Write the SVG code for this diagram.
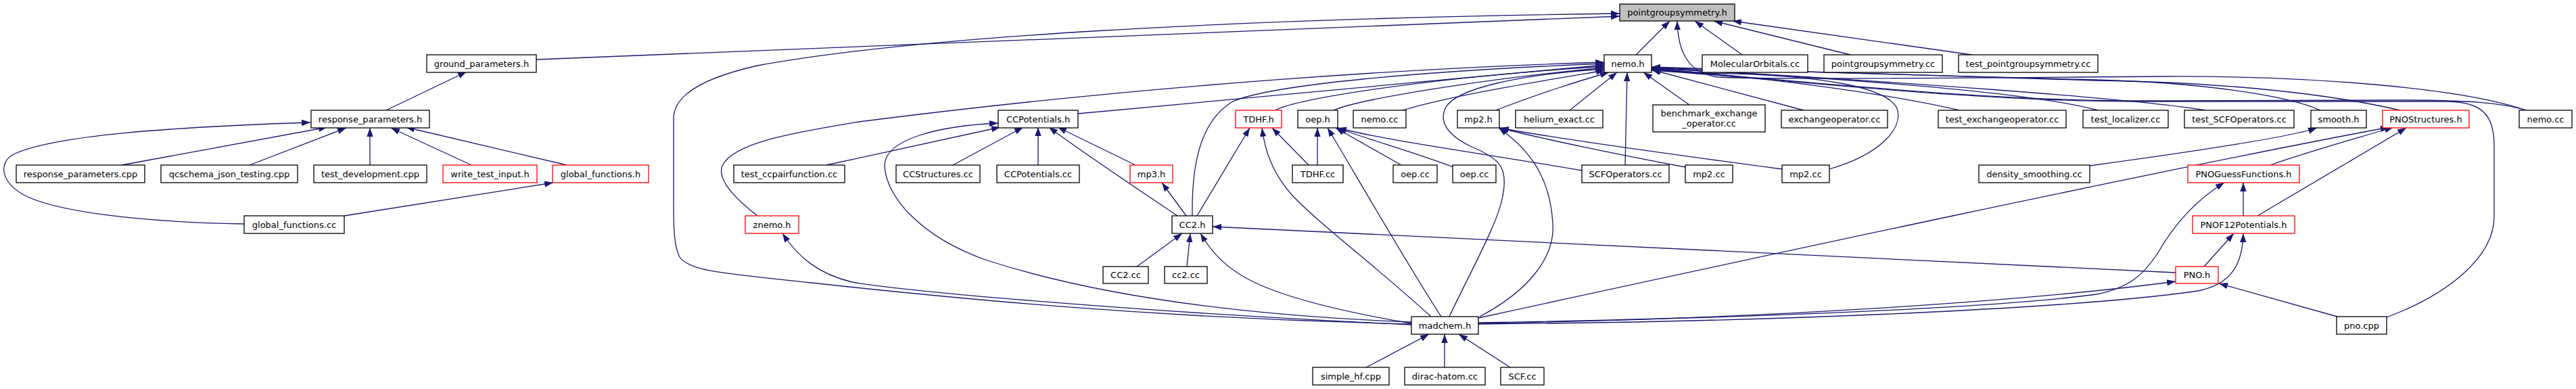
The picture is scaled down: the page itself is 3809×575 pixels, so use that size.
<svg xmlns="http://www.w3.org/2000/svg" width="3809" height="575" viewBox="0 0 3809 575">
<style>
.n rect{fill:#fff;stroke:#000;stroke-width:1.3}
.n.r rect{stroke:#ff0000}
.n.root rect{fill:#bfbfbf}
.n text{font-family:"DejaVu Sans",sans-serif;font-size:13px;text-anchor:middle;fill:#000}
#edges path{fill:none;stroke:#191970;stroke-width:1.3;marker-end:url(#ah)}
</style>
<defs>
<marker id="ah" markerUnits="userSpaceOnUse" markerWidth="14" markerHeight="10" refX="13" refY="5" orient="auto" viewBox="0 0 14 10"><path d="M0,0.3 L13,5 L0,9.7 z" fill="#191970"/></marker>
</defs>
<rect width="3809" height="575" fill="#fff"/>
<g id="edges">
<path d="M793,88 L2395,24"/>
<path d="M2087,479 C1700,470 1400,440 1200,418 C1080,405 1020,402 1005,380 C997,365 996,340 996,300 L996,175 C996,140 1040,115 1120,97 C1350,55 1800,28 2395,20"/>
<path d="M2419,81 L2469,31"/>
<path d="M3735,163 C3640,130 3420,112 3200,113 C2900,115 2620,118 2540,114 C2495,108 2481,75 2480,31"/>
<path d="M2576,81 L2506,31"/>
<path d="M2736,81 L2534,31"/>
<path d="M2916,81 L2562,31"/>
<path d="M1120,319 C1085,292 1060,265 1068,245 C1085,210 1180,195 1270,180 C1700,125 2100,100 2372,92"/>
<path d="M1763,319 C1762,250 1772,180 1823,150 C1880,125 2100,105 2372,94"/>
<path d="M1594,168 C1900,142 2150,115 2372,96"/>
<path d="M1885,163 C1920,146 2100,116 2372,98"/>
<path d="M1972,163 C2010,146 2200,116 2372,100"/>
<path d="M2074,163 C2150,140 2290,118 2373,104"/>
<path d="M2143,468 C2175,400 2215,330 2222,290 C2230,250 2220,235 2176,217 C2140,200 2128,180 2137,160 C2152,130 2250,110 2372,102"/>
<path d="M2212,163 C2270,140 2340,118 2379,107"/>
<path d="M2321,163 L2391,107"/>
<path d="M2403,244 L2406,107"/>
<path d="M2498,155 L2430,107"/>
<path d="M2667,163 L2442,103"/>
<path d="M2897,163 C2800,140 2600,112 2442,102"/>
<path d="M3102,163 C3000,135 2700,114 2442,101"/>
<path d="M3261,163 C3150,145 2800,120 2442,100"/>
<path d="M3431,163 C3380,140 3250,122 3100,118 C2850,112 2600,105 2442,100"/>
<path d="M3549,163 C3450,140 3300,122 3100,119 C2850,113 2600,105 2442,99"/>
<path d="M3735,163 C3700,152 3650,148 3550,148 L3160,149 C2900,149 2600,112 2442,103"/>
<path d="M3529,469 C3620,435 3688,380 3688,320 L3688,215 C3688,170 3670,151 3620,150 L3160,150 C2900,150 2600,113 2442,104"/>
<path d="M2705,250 C2780,228 2815,190 2805,160 C2790,130 2700,110 2520,108 C2490,106 2460,103 2442,101"/>
<path d="M2087,476 C1800,465 1600,430 1460,385 C1360,350 1310,290 1308,245 C1308,205 1390,186 1476,182"/>
<path d="M1222,244 L1479,188"/>
<path d="M1409,244 L1513,188"/>
<path d="M1535,244 L1535,188"/>
<path d="M1741,319 C1710,298 1600,225 1551,188"/>
<path d="M1679,244 L1564,188"/>
<path d="M1754,319 L1718,270"/>
<path d="M1770,319 L1848,189"/>
<path d="M2116,468 C2030,390 1950,330 1912,290 C1880,255 1870,220 1866,189"/>
<path d="M1935,244 L1881,189"/>
<path d="M1948,244 L1948,189"/>
<path d="M2131,468 C2080,390 2000,250 1963,189"/>
<path d="M2072,244 L1975,189"/>
<path d="M2149,247 C2100,228 2020,205 1977,189"/>
<path d="M2339,252 C2200,228 2050,208 1978,189"/>
<path d="M2492,247 C2400,230 2280,205 2217,189"/>
<path d="M2635,250 C2500,232 2300,205 2218,189"/>
<path d="M2188,468 C2260,430 2300,380 2296,330 C2292,260 2260,220 2216,189"/>
<path d="M1681,394 L1748,345"/>
<path d="M1755,394 L1760,345"/>
<path d="M2087,478 C1980,460 1900,440 1850,415 C1810,395 1790,370 1775,345"/>
<path d="M3217,403 L1793,335"/>
<path d="M2087,480 C1700,462 1350,432 1260,417 C1210,405 1180,380 1157,345"/>
<path d="M2186,470 C2600,380 3200,250 3533,188"/>
<path d="M3357,244 C3420,222 3490,203 3539,188"/>
<path d="M3338,319 L3558,189"/>
<path d="M3090,245 C3200,230 3380,205 3426,189"/>
<path d="M3317,319 L3317,270"/>
<path d="M2186,477 C2600,470 2950,455 3100,435 C3150,425 3170,405 3190,375 C3210,340 3240,300 3289,270"/>
<path d="M2186,478 C2600,472 3000,445 3217,416"/>
<path d="M2186,479 C2700,475 3100,452 3250,430 C3300,420 3316,390 3317,345"/>
<path d="M3259,394 L3303,345"/>
<path d="M3456,468 L3281,419"/>
<path d="M2020,543 L2113,494"/>
<path d="M2136,543 L2136,494"/>
<path d="M2233,543 L2157,494"/>
<path d="M571,163 L690,106"/>
<path d="M361,331 C200,328 80,312 35,288 C0,268 -2,240 20,228 C80,200 250,188 459,181"/>
<path d="M180,244 L484,188"/>
<path d="M369,244 L512,189"/>
<path d="M547,244 L547,189"/>
<path d="M697,244 L578,189"/>
<path d="M838,244 L600,188"/>
<path d="M509,319 L818,270"/>
</g>
<g id="n_pgs" class="n root"><rect x="2395" y="6" width="170" height="25"/><text x="2480" y="23">pointgroupsymmetry.h</text></g>
<g id="n_ground" class="n"><rect x="631" y="81" width="162" height="26"/><text x="712" y="98.5">ground_parameters.h</text></g>
<g id="n_nemo_h" class="n"><rect x="2372" y="81" width="70" height="26"/><text x="2407" y="98.5">nemo.h</text></g>
<g id="n_molorb" class="n"><rect x="2517" y="81" width="156" height="26"/><text x="2595" y="98.5">MolecularOrbitals.cc</text></g>
<g id="n_pgs_cc" class="n"><rect x="2697" y="81" width="175" height="26"/><text x="2784.5" y="98.5">pointgroupsymmetry.cc</text></g>
<g id="n_test_pgs" class="n"><rect x="2896" y="81" width="206" height="26"/><text x="2999" y="98.5">test_pointgroupsymmetry.cc</text></g>
<g id="n_resp_h" class="n"><rect x="460" y="163" width="175" height="26"/><text x="547.5" y="180.5">response_parameters.h</text></g>
<g id="n_ccpot_h" class="n"><rect x="1476" y="163" width="118" height="26"/><text x="1535" y="180.5">CCPotentials.h</text></g>
<g id="n_tdhf_h" class="n r"><rect x="1827" y="163" width="68" height="26"/><text x="1861" y="180.5">TDHF.h</text></g>
<g id="n_oep_h" class="n"><rect x="1919" y="163" width="59" height="26"/><text x="1948.5" y="180.5">oep.h</text></g>
<g id="n_nemo_cc1" class="n"><rect x="2001" y="163" width="78" height="26"/><text x="2040" y="180.5">nemo.cc</text></g>
<g id="n_mp2_h" class="n"><rect x="2155" y="163" width="62" height="26"/><text x="2186" y="180.5">mp2.h</text></g>
<g id="n_helium" class="n"><rect x="2241" y="163" width="129" height="26"/><text x="2305.5" y="180.5">helium_exact.cc</text></g>
<g id="n_bench" class="n"><rect x="2444" y="155" width="166" height="40"/><text x="2527" y="172">benchmark_exchange</text><text x="2527" y="187">_operator.cc</text></g>
<g id="n_exch" class="n"><rect x="2634" y="163" width="157" height="26"/><text x="2712.5" y="180.5">exchangeoperator.cc</text></g>
<g id="n_test_exch" class="n"><rect x="2866" y="163" width="189" height="26"/><text x="2960.5" y="180.5">test_exchangeoperator.cc</text></g>
<g id="n_test_loc" class="n"><rect x="3080" y="163" width="126" height="26"/><text x="3143" y="180.5">test_localizer.cc</text></g>
<g id="n_test_scf" class="n"><rect x="3230" y="163" width="162" height="26"/><text x="3311" y="180.5">test_SCFOperators.cc</text></g>
<g id="n_smooth" class="n"><rect x="3417" y="163" width="82" height="26"/><text x="3458" y="180.5">smooth.h</text></g>
<g id="n_pnostruct" class="n r"><rect x="3523" y="163" width="128" height="26"/><text x="3587" y="180.5">PNOStructures.h</text></g>
<g id="n_nemo_cc2" class="n"><rect x="3725" y="163" width="78" height="26"/><text x="3764" y="180.5">nemo.cc</text></g>
<g id="n_resp_cpp" class="n"><rect x="24" y="244" width="190" height="26"/><text x="119" y="261.5">response_parameters.cpp</text></g>
<g id="n_qcschema" class="n"><rect x="238" y="244" width="202" height="26"/><text x="339" y="261.5">qcschema_json_testing.cpp</text></g>
<g id="n_test_dev" class="n"><rect x="464" y="244" width="167" height="26"/><text x="547.5" y="261.5">test_development.cpp</text></g>
<g id="n_write_test" class="n r"><rect x="655" y="244" width="139" height="26"/><text x="724.5" y="261.5">write_test_input.h</text></g>
<g id="n_global_h" class="n r"><rect x="817" y="244" width="142" height="26"/><text x="888" y="261.5">global_functions.h</text></g>
<g id="n_test_ccpair" class="n"><rect x="1085" y="244" width="164" height="26"/><text x="1167" y="261.5">test_ccpairfunction.cc</text></g>
<g id="n_ccstruct" class="n"><rect x="1325" y="244" width="124" height="26"/><text x="1387" y="261.5">CCStructures.cc</text></g>
<g id="n_ccpot_cc" class="n"><rect x="1474" y="244" width="122" height="26"/><text x="1535" y="261.5">CCPotentials.cc</text></g>
<g id="n_mp3" class="n r"><rect x="1671" y="244" width="63" height="26"/><text x="1702.5" y="261.5">mp3.h</text></g>
<g id="n_tdhf_cc" class="n"><rect x="1911" y="244" width="75" height="26"/><text x="1948.5" y="261.5">TDHF.cc</text></g>
<g id="n_oep_cc1" class="n"><rect x="2060" y="244" width="65" height="26"/><text x="2092.5" y="261.5">oep.cc</text></g>
<g id="n_oep_cc2" class="n"><rect x="2148" y="244" width="64" height="26"/><text x="2180" y="261.5">oep.cc</text></g>
<g id="n_scfop" class="n"><rect x="2339" y="244" width="129" height="26"/><text x="2403.5" y="261.5">SCFOperators.cc</text></g>
<g id="n_mp2_cc1" class="n"><rect x="2492" y="244" width="70" height="26"/><text x="2527" y="261.5">mp2.cc</text></g>
<g id="n_mp2_cc2" class="n"><rect x="2635" y="244" width="70" height="26"/><text x="2670" y="261.5">mp2.cc</text></g>
<g id="n_density" class="n"><rect x="2926" y="244" width="164" height="26"/><text x="3008" y="261.5">density_smoothing.cc</text></g>
<g id="n_pnoguess" class="n r"><rect x="3235" y="244" width="165" height="26"/><text x="3317.5" y="261.5">PNOGuessFunctions.h</text></g>
<g id="n_global_cc" class="n"><rect x="361" y="319" width="148" height="26"/><text x="435" y="336.5">global_functions.cc</text></g>
<g id="n_znemo" class="n r"><rect x="1102" y="319" width="79" height="26"/><text x="1141.5" y="336.5">znemo.h</text></g>
<g id="n_cc2_h" class="n"><rect x="1733" y="319" width="60" height="26"/><text x="1763" y="336.5">CC2.h</text></g>
<g id="n_pnof12" class="n r"><rect x="3242" y="319" width="151" height="26"/><text x="3317.5" y="336.5">PNOF12Potentials.h</text></g>
<g id="n_cc2_cc_upper" class="n"><rect x="1631" y="394" width="67" height="25"/><text x="1664.5" y="411">CC2.cc</text></g>
<g id="n_cc2_cc_lower" class="n"><rect x="1722" y="394" width="63" height="25"/><text x="1753.5" y="411">cc2.cc</text></g>
<g id="n_pno_h" class="n r"><rect x="3217" y="394" width="63" height="25"/><text x="3248.5" y="411">PNO.h</text></g>
<g id="n_madchem" class="n"><rect x="2087" y="468" width="99" height="26"/><text x="2136.5" y="485.5">madchem.h</text></g>
<g id="n_pno_cpp" class="n"><rect x="3455" y="468" width="74" height="26"/><text x="3492" y="485.5">pno.cpp</text></g>
<g id="n_simple_hf" class="n"><rect x="1941" y="543" width="113" height="26"/><text x="1997.5" y="560.5">simple_hf.cpp</text></g>
<g id="n_dirac" class="n"><rect x="2077" y="543" width="119" height="26"/><text x="2136.5" y="560.5">dirac-hatom.cc</text></g>
<g id="n_scf" class="n"><rect x="2219" y="543" width="64" height="26"/><text x="2251" y="560.5">SCF.cc</text></g>
</svg>
